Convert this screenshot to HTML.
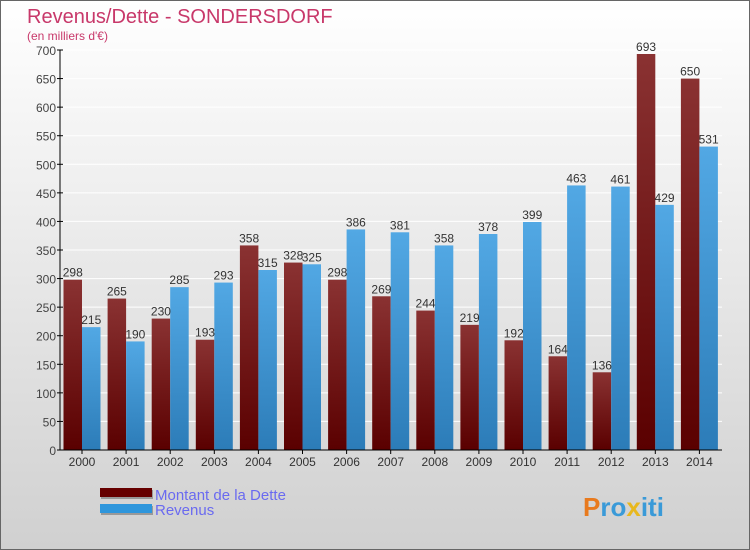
<!DOCTYPE html>
<html><head><meta charset="utf-8"><style>
body{margin:0}
#c{width:750px;height:550px;position:relative;overflow:hidden;font-family:"Liberation Sans",sans-serif}
</style></head><body>
<div id="c">
<svg id="s" width="750" height="550" xmlns="http://www.w3.org/2000/svg">
<defs>
<linearGradient id="bg" x1="0" y1="0" x2="0" y2="1"><stop offset="0" stop-color="#ffffff"/><stop offset="1" stop-color="#d0d0d0"/></linearGradient>
<linearGradient id="gd" x1="0" y1="0" x2="0" y2="1"><stop offset="0" stop-color="#8a3232"/><stop offset="1" stop-color="#5a0000"/></linearGradient>
<linearGradient id="gr" x1="0" y1="0" x2="0" y2="1"><stop offset="0" stop-color="#52a8e4"/><stop offset="1" stop-color="#2c7cb8"/></linearGradient>
</defs>
<rect x="0.5" y="0.5" width="749" height="549" fill="url(#bg)" stroke="#666"/>
<text x="27" y="23" font-size="20" fill="#c8386a">Revenus/Dette - SONDERSDORF</text>
<text x="27" y="40" font-size="12" fill="#c8386a">(en milliers d'€)</text>
<g id="grid"></g><g id="bars"></g><g id="axes"></g>
<rect x="101" y="490" width="52" height="9" fill="#999"/>
<rect x="100" y="488" width="52" height="9" fill="#600"/>
<rect x="101" y="506" width="52" height="9" fill="#999"/>
<rect x="100" y="504" width="52" height="9" fill="#2e96dc"/>
<text x="155" y="500" font-size="15" fill="#6a6af0">Montant de la Dette</text>
<text x="155" y="515" font-size="15" fill="#6a6af0">Revenus</text>
<text x="583" y="516" font-size="26" font-weight="bold" fill="#3a9ad8"><tspan fill="#e87a1e">P</tspan>ro<tspan fill="#e8b81e">x</tspan>iti</text>
</svg></div>
<script>
const years=["2000","2001","2002","2003","2004","2005","2006","2007","2008","2009","2010","2011","2012","2013","2014"];
const dette=[298,265,230,193,358,328,298,269,244,219,192,164,136,693,650];
const revenus=[215,190,285,293,315,325,386,381,358,378,399,463,461,429,531];
const yTicks=[0,50,100,150,200,250,300,350,400,450,500,550,600,650,700];
const NS="http://www.w3.org/2000/svg";
const x0=60,x1=722,yB=450,yT=50,maxV=700,gw=44.1,bw=18.5;
const y=v=>yB-(v/maxV)*(yB-yT);
const cx=i=>82+i*gw;
function mk(t,a,p){const e=document.createElementNS(NS,t);for(const k in a)e.setAttribute(k,a[k]);p.appendChild(e);return e;}
const G=document.getElementById('grid'),B=document.getElementById('bars'),A=document.getElementById('axes');
yTicks.forEach(v=>{
 const l=mk('line',{x1:x0,x2:x1,y1:y(v),y2:y(v),stroke:'#ffffff','stroke-width':1},G);
 
 
 const t=mk('line',{x1:x0-3,x2:x0+3,y1:y(v),y2:y(v),stroke:'#000'},A);
 const tx=mk('text',{x:x0-4,y:y(v)+5,'font-size':12,'text-anchor':'end',fill:'#444'},A);
 tx.textContent=v;
 
 
});
mk('line',{x1:x0,x2:x0,y1:yT,y2:yB,stroke:'#000'},A);
mk('line',{x1:x0,x2:x1,y1:yB,y2:yB,stroke:'#000'},A);
years.forEach((yr,i)=>{
 const c=cx(i);
 const d=mk('rect',{x:c-bw,y:y(dette[i]),width:bw,height:yB-y(dette[i]),fill:'url(#gd)'},B);
 
 
 const r=mk('rect',{x:c,y:y(revenus[i]),width:bw,height:yB-y(revenus[i]),fill:'url(#gr)'},B);
 
 
 const t1=mk('text',{x:c-bw/2,y:y(dette[i])-3,'font-size':12,'text-anchor':'middle',fill:'#333'},B);
 t1.textContent=dette[i];
 
 
 const t2=mk('text',{x:c+bw/2,y:y(revenus[i])-3,'font-size':12,'text-anchor':'middle',fill:'#333'},B);
 t2.textContent=revenus[i];
 
 
 mk('line',{x1:c,x2:c,y1:yB,y2:yB+4,stroke:'#000'},A);
 const xl=mk('text',{x:c,y:yB+16,'font-size':12,'text-anchor':'middle',fill:'#333'},A);
 xl.textContent=yr;
 
 
});
</script>
</body></html>
